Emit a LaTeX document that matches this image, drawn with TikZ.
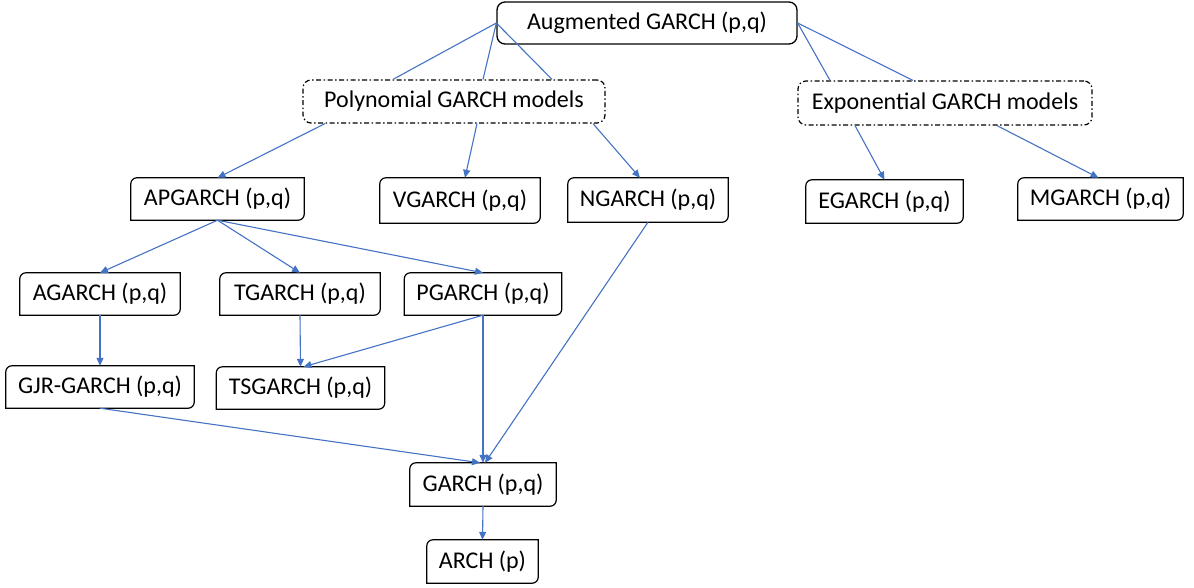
\documentclass[tikz,border=0pt]{standalone}
\usepackage{fontspec}
\setmainfont{Carlito}
\usetikzlibrary{arrows.meta}
\definecolor{lineblue}{HTML}{4472C4}
\tikzset{
  gnode/.style={inner sep=0pt, font=\fontsize{24}{28}\selectfont, anchor=center},
  boxline/.style={draw=black, line width=1.2pt},
  dashbox/.style={gnode, draw=black, line width=1.2pt, rounded corners=8pt, dash pattern=on 5pt off 2.5pt on 1.5pt off 2.5pt},
  topbox/.style={gnode, draw=black, line width=1.3pt, rounded corners=8pt},
  conn/.style={draw=lineblue, line width=1.1pt},
  arr/.style={conn, -{Triangle[length=8pt,width=7pt]}}
}
\begin{document}
\begin{tikzpicture}[x=1pt,y=-1pt]
\useasboundingbox (0,0) rectangle (1194,588);
% nodes
\node[topbox, minimum width=300pt, minimum height=42pt] (aug) at (647,23) {Augmented GARCH (p,q)};
\node[dashbox, minimum width=302pt, minimum height=43pt] (poly) at (454,101.5) {Polynomial GARCH models};
\node[dashbox, minimum width=294pt, minimum height=44pt] (expo) at (945,103) {Exponential GARCH models};
\node[gnode, minimum width=173pt, minimum height=42pt] (apg) at (217.5,199) {APGARCH (p,q)};
\node[gnode, minimum width=160pt, minimum height=45pt] (vg) at (460,200.5) {VGARCH (p,q)};
\node[gnode, minimum width=160pt, minimum height=44pt] (ng) at (648,200) {NGARCH (p,q)};
\node[gnode, minimum width=157pt, minimum height=43pt] (eg) at (884.5,201.5) {EGARCH (p,q)};
\node[gnode, minimum width=165pt, minimum height=42pt] (mg) at (1100.5,199) {MGARCH (p,q)};
\node[gnode, minimum width=160pt, minimum height=42pt] (ag) at (100,294) {AGARCH (p,q)};
\node[gnode, minimum width=160pt, minimum height=42pt] (tg) at (300,294) {TGARCH (p,q)};
\node[gnode, minimum width=157pt, minimum height=42pt] (pg) at (483,294) {PGARCH (p,q)};
\node[gnode, minimum width=188pt, minimum height=42pt] (gjr) at (100,387) {GJR-GARCH (p,q)};
\node[gnode, minimum width=168pt, minimum height=42pt] (ts) at (300.5,388) {TSGARCH (p,q)};
\node[gnode, minimum width=146pt, minimum height=43pt] (garch) at (483,484.5) {GARCH (p,q)};
\node[gnode, minimum width=111pt, minimum height=43pt] (arch) at (482.5,561.5) {ARCH (p)};
% borders: rounded top-left and bottom-right corners
\foreach \n in {apg,vg,ng,eg,mg,ag,tg,pg,gjr,ts,garch,arch}{
  \draw[boxline] (\n.south west) -- ([yshift=-6pt]\n.north west)
    arc[start angle=180,end angle=90,radius=6pt] -- (\n.north east)
    -- ([yshift=6pt]\n.south east) arc[start angle=0,end angle=-90,radius=6pt] -- cycle;
}
% connectors from the top node
\draw[conn] (aug.west) -- ([xshift=-61pt]poly.north);
\draw[conn] (aug.west) -- ([xshift=29pt]poly.north);
\draw[conn] (aug.west) -- ([xshift=98pt]poly.north);
\draw[conn] (aug.east) -- ([xshift=-115pt]expo.north);
\draw[conn] (aug.east) -- ([xshift=-32pt]expo.north);
% exponential family
\draw[arr] ([xshift=-90pt]expo.south) -- (eg.north);
\draw[arr] ([xshift=52pt]expo.south) -- ([xshift=-2pt]mg.north);
% polynomial family
\draw[arr] ([xshift=-129pt]poly.south) -- (apg.north);
\draw[arr] ([xshift=23pt]poly.south) -- ([xshift=5pt]vg.north);
\draw[arr] ([xshift=139pt]poly.south) -- ([xshift=-8pt]ng.north);
% APGARCH children
\draw[arr] (apg.south) -- (ag.north);
\draw[arr] (apg.south) -- (tg.north);
\draw[arr] (apg.south) -- (pg.north);
\draw[arr] (ag.south) -- (gjr.north);
\draw[arr] (tg.south) -- (ts.north);
\draw[arr] (pg.south) -- ([xshift=3pt]ts.north);
\draw[arr] (pg.south) -- (garch.north);
\draw[arr] (ng.south) -- ([xshift=2pt]garch.north);
\draw[arr] (gjr.south) -- ([xshift=-3pt]garch.north);
\draw[arr] (garch.south) -- (arch.north);
\end{tikzpicture}
\end{document}
